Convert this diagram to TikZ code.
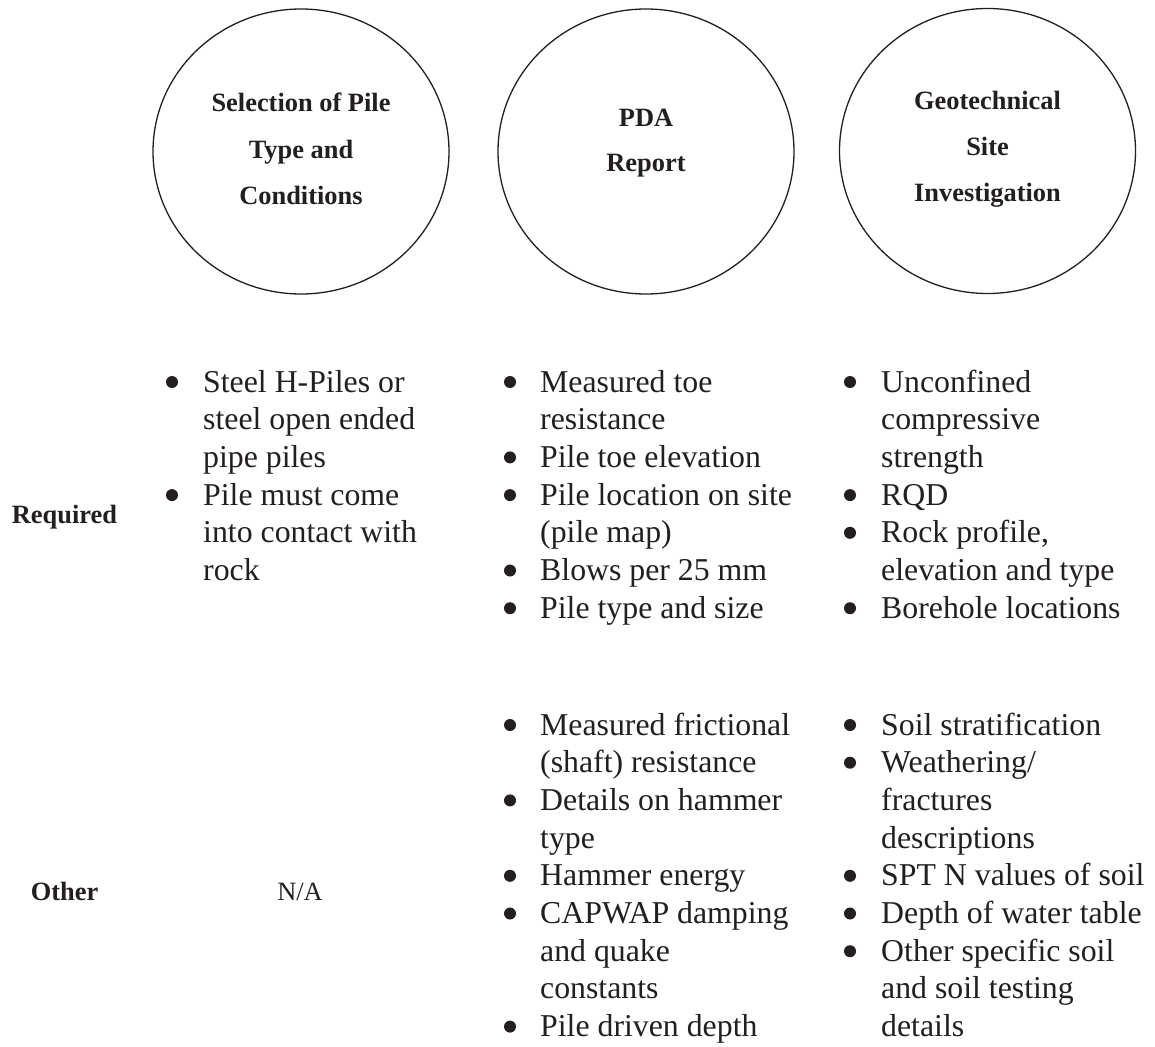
\documentclass[tikz,border=0pt]{standalone}
\usepackage{fontspec}
\setmainfont{Liberation Serif}
\usetikzlibrary{shapes.geometric}
\definecolor{txt}{RGB}{35,31,32}
\tikzset{
  head/.style={font=\fontsize{26.4}{30}\selectfont\bfseries, text=txt, inner sep=0pt, anchor=base},
  plain/.style={font=\fontsize{26.4}{30}\selectfont, text=txt, inner sep=0pt, anchor=base},
  body/.style={font=\fontsize{31.8}{38}\selectfont, text=txt, inner sep=0pt, anchor=base west},
  dot/.style={circle, fill=txt, minimum size=12pt, inner sep=0pt},
  oval/.style={ellipse, draw=txt, line width=1.3pt, minimum width=296pt, minimum height=285pt, inner sep=0pt}
}
\begin{document}
\begin{tikzpicture}[x=1pt,y=-1pt]
\useasboundingbox (0,0) rectangle (1155,1046);
\fill[white] (0,0) rectangle (1155,1046);

% circles
\node[oval] (c1) at (301,151.5) {};
\node[oval] (c2) at (646,151.5) {};
\node[oval] (c3) at (987.5,151) {};

\node[head] (c1a) at (301,111.5) {Selection of Pile};
\node[head] (c1b) at (301,158) {Type and};
\node[head] (c1c) at (301,204) {Conditions};

\node[head] (c2a) at (646,126.7) {PDA};
\node[head] (c2b) at (646,171.7) {Report};

\node[head] (c3a) at (987.5,109.5) {Geotechnical};
\node[head] (c3b) at (987.5,155.5) {Site};
\node[head] (c3c) at (987.5,201.7) {Investigation};

% row labels
\node[head] (req) at (64.5,523) {Required};
\node[head] (oth) at (64.5,900) {Other};
\node[plain] (na) at (300,900) {N/A};

% column 1, required
\node[dot] (d11) at (172,382) {};
\node[body] (t11) at (203,392) {Steel H-Piles or};
\node[body] (t12) at (203,429.7) {steel open ended};
\node[body] (t13) at (203,467.4) {pipe piles};
\node[dot] (d12) at (172,495.1) {};
\node[body] (t14) at (203,505.1) {Pile must come};
\node[body] (t15) at (203,542.8) {into contact with};
\node[body] (t16) at (203,580.5) {rock};

% column 2, required
\node[dot] (d21) at (510,382) {};
\node[body] (u11) at (540,392) {Measured toe};
\node[body] (u12) at (540,429.7) {resistance};
\node[dot] (d22) at (510,457.4) {};
\node[body] (u13) at (540,467.4) {Pile toe elevation};
\node[dot] (d23) at (510,495.1) {};
\node[body] (u14) at (540,505.1) {Pile location on site};
\node[body] (u15) at (540,542.8) {(pile map)};
\node[dot] (d24) at (510,570.5) {};
\node[body] (u16) at (540,580.5) {Blows per 25 mm};
\node[dot] (d25) at (510,608.2) {};
\node[body] (u17) at (540,618.2) {Pile type and size};

% column 3, required
\node[dot] (d31) at (850,382) {};
\node[body] (v11) at (881,392) {Unconfined};
\node[body] (v12) at (881,429.7) {compressive};
\node[body] (v13) at (881,467.4) {strength};
\node[dot] (d32) at (850,495.1) {};
\node[body] (v14) at (881,505.1) {RQD};
\node[dot] (d33) at (850,532.8) {};
\node[body] (v15) at (881,542.8) {Rock profile,};
\node[body] (v16) at (881,580.5) {elevation and type};
\node[dot] (d34) at (850,608.2) {};
\node[body] (v17) at (881,618.2) {Borehole locations};

% column 2, other
\node[dot] (e21) at (510,725) {};
\node[body] (w11) at (540,735) {Measured frictional};
\node[body] (w12) at (540,772.7) {(shaft) resistance};
\node[dot] (e22) at (510,800.4) {};
\node[body] (w13) at (540,810.4) {Details on hammer};
\node[body] (w14) at (540,848.1) {type};
\node[dot] (e23) at (510,875.8) {};
\node[body] (w15) at (540,885.8) {Hammer energy};
\node[dot] (e24) at (510,913.5) {};
\node[body] (w16) at (540,923.5) {CAPWAP damping};
\node[body] (w17) at (540,961.2) {and quake};
\node[body] (w18) at (540,998.9) {constants};
\node[dot] (e25) at (510,1026.6) {};
\node[body] (w19) at (540,1036.6) {Pile driven depth};

% column 3, other
\node[dot] (e31) at (850,725) {};
\node[body] (z11) at (881,735) {Soil stratification};
\node[dot] (e32) at (850,762.7) {};
\node[body] (z12) at (881,772.7) {Weathering/};
\node[body] (z13) at (881,810.4) {fractures};
\node[body] (z14) at (881,848.1) {descriptions};
\node[dot] (e33) at (850,875.8) {};
\node[body] (z15) at (881,885.8) {SPT N values of soil};
\node[dot] (e34) at (850,913.5) {};
\node[body] (z16) at (881,923.5) {Depth of water table};
\node[dot] (e35) at (850,951.2) {};
\node[body] (z17) at (881,961.2) {Other specific soil};
\node[body] (z18) at (881,998.9) {and soil testing};
\node[body] (z19) at (881,1036.6) {details};
\end{tikzpicture}
\end{document}
